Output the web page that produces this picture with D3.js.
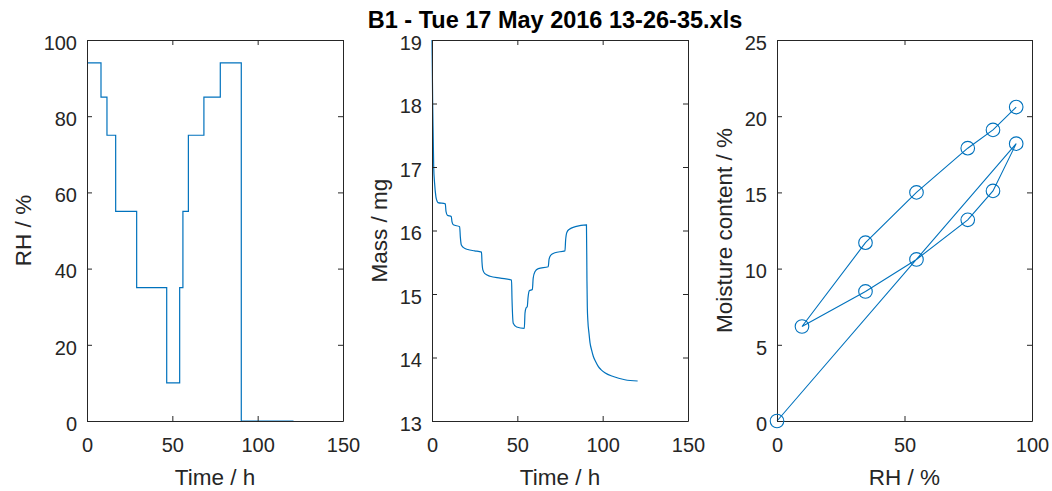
<!DOCTYPE html>
<html>
<head>
<meta charset="utf-8">
<script src="https://cdn.jsdelivr.net/npm/d3@7"></script>
<style>
  body { margin: 0; background: #fff; }
  text { font-family: "Liberation Sans", Arial, Helvetica, sans-serif; fill: #262626; }
</style>
</head>
<body>
<script>
// RH program (step values, held until the next time)
var rhTime  = [0, 8.2, 11.7, 16.8, 29.1, 46.7, 54.3, 56.2, 59.4, 68.5, 78.1, 90.4, 121];
var rhLevel = [94, 85, 75, 55, 35, 10, 35, 55, 75, 85, 94, 0, 0];

// sample mass
var massTime = [0, 0.2, 0.4, 0.7, 1.0, 1.5, 2.3, 3.0, 3.5, 7.8,
  8.2, 9.0, 11.3, 11.7, 12.5, 16.2, 16.6, 17.2, 18.5, 21,
  25, 29.0, 29.3, 29.8, 31, 34, 40, 46.6, 46.9, 47.6,
  49.6, 54.1, 54.5, 55.1, 55.8, 56.3, 57.0, 58.8, 59.3, 60.3,
  62.3, 68.1, 68.6, 69.5, 72.0, 77.9, 78.3, 79.0, 80.5, 84,
  90.5, 90.8, 91.0, 91.3, 92.0, 92.6, 93.5, 94.5, 96, 97.4,
  99, 101.3, 106.2, 113, 120.5];
var massValue = [19.0, 18.5, 18.0, 17.5, 17.0, 16.75, 16.53, 16.46, 16.44, 16.42,
  16.3, 16.24, 16.22, 16.14, 16.09, 16.06, 15.9, 15.77, 15.73, 15.70,
  15.68, 15.66, 15.5, 15.38, 15.32, 15.28, 15.25, 15.22, 14.9, 14.54,
  14.48, 14.46, 14.7, 14.78, 14.8, 14.95, 15.05, 15.07, 15.25, 15.35,
  15.4, 15.43, 15.55, 15.61, 15.65, 15.68, 15.85, 15.97, 16.02, 16.06,
  16.09, 15.2, 14.8, 14.59, 14.38, 14.23, 14.12, 14.02, 13.93, 13.86,
  13.81, 13.76, 13.70, 13.65, 13.63];

// sorption isotherm points, in measurement order
var mcRH    = [93.8, 84.7, 74.8, 54.7, 34.7, 9.8, 34.7, 54.7, 74.8, 84.7, 93.8, 0];
var mcValue = [20.6, 19.1, 17.9, 15.0, 11.7, 6.2, 8.5, 10.6, 13.2, 15.1, 18.2, 0];

var timeTicks = [0, 50, 100, 150];
var rhTicks = [0, 20, 40, 60, 80, 100];
var massTicks = [13, 14, 15, 16, 17, 18, 19];
var mcTicks = [0, 5, 10, 15, 20, 25];
var rhAxisTicks = [0, 50, 100];

var titleText = "B1 - Tue 17 May 2016 13-26-35.xls";

var W = 1052, H = 491;
var plotTop = 40, plotBottom = 421;
var lineColor = "#0072BD";
var axisColor = "#262626";
var tickFont = 20;
var labelFont = 22.5;

var svg = d3.select("body").append("svg")
    .attr("width", W)
    .attr("height", H);

function makePanel(left, right, xDomain, yDomain, xTicks, yTicks, xLabel, yLabel, yLabelX) {
  var g = svg.append("g");
  var x = d3.scaleLinear().domain(xDomain).range([left, right]);
  var y = d3.scaleLinear().domain(yDomain).range([plotBottom, plotTop]);
  var fmt = d3.format("d");

  var plot = g.append("g");

  // box with inward ticks on all four sides
  var axes = g.append("g");
  axes.append("g")
      .attr("transform", "translate(0," + plotBottom + ")")
      .call(d3.axisBottom(x).tickValues(xTicks).tickFormat(fmt).tickSizeInner(-5).tickSizeOuter(0).tickPadding(17));
  axes.append("g")
      .attr("transform", "translate(0," + plotTop + ")")
      .call(d3.axisTop(x).tickValues(xTicks).tickSizeInner(-5).tickSizeOuter(0).tickFormat(""));
  var yAxis = axes.append("g")
      .attr("transform", "translate(" + left + ",0)")
      .call(d3.axisLeft(y).tickValues(yTicks).tickFormat(fmt).tickSizeInner(-5).tickSizeOuter(0).tickPadding(10));
  axes.append("g")
      .attr("transform", "translate(" + right + ",0)")
      .call(d3.axisRight(y).tickValues(yTicks).tickSizeInner(-5).tickSizeOuter(0).tickFormat(""));

  axes.selectAll("path.domain").attr("stroke", axisColor).attr("stroke-width", 1);
  axes.selectAll(".tick line").attr("stroke", axisColor).attr("stroke-width", 1);
  axes.selectAll(".tick text")
      .style("font-size", tickFont + "px")
      .attr("fill", axisColor);
  // y tick labels sit a bit lower in MATLAB
  yAxis.selectAll(".tick text").attr("dy", "0.46em");

  g.append("text")
      .attr("x", (left + right) / 2)
      .attr("y", 485)
      .attr("text-anchor", "middle")
      .style("font-size", labelFont + "px")
      .text(xLabel);

  g.append("text")
      .attr("transform", "translate(" + yLabelX + "," + (plotTop + plotBottom) / 2 + ") rotate(-90)")
      .attr("text-anchor", "middle")
      .style("font-size", labelFont + "px")
      .text(yLabel);

  return { g: g, plot: plot, x: x, y: y };
}

// Panel 1: RH vs time
var p1 = makePanel(87, 343, [0, 150], [0, 100], timeTicks, rhTicks, "Time / h", "RH / %", 31);
var rhData = rhTime.map(function(t, i) { return { t: t, v: rhLevel[i] }; });
p1.plot.append("path")
    .datum(rhData)
    .attr("fill", "none")
    .attr("stroke", lineColor)
    .attr("stroke-width", 1.2)
    .attr("d", d3.line().curve(d3.curveStepAfter).x(function(d) { return p1.x(d.t); }).y(function(d) { return p1.y(d.v); }));

// Panel 2: mass vs time
var p2 = makePanel(432, 688, [0, 150], [13, 19], timeTicks, massTicks, "Time / h", "Mass / mg", 387);
var massData = massTime.map(function(t, i) { return { t: t, v: massValue[i] }; });
p2.plot.append("path")
    .datum(massData)
    .attr("fill", "none")
    .attr("stroke", lineColor)
    .attr("stroke-width", 1.2)
    .attr("d", d3.line().curve(d3.curveMonotoneX).x(function(d) { return p2.x(d.t); }).y(function(d) { return p2.y(d.v); }));

// Panel 3: moisture content vs RH
var p3 = makePanel(777, 1032, [0, 100], [0, 25], rhAxisTicks, mcTicks, "RH / %", "Moisture content / %", 732);
var mcData = mcRH.map(function(r, i) { return { r: r, v: mcValue[i] }; });
p3.plot.append("path")
    .datum(mcData)
    .attr("fill", "none")
    .attr("stroke", lineColor)
    .attr("stroke-width", 1.1)
    .attr("d", d3.line().x(function(d) { return p3.x(d.r); }).y(function(d) { return p3.y(d.v); }));
p3.g.selectAll("circle.mk")
    .data(mcData)
    .enter().append("circle")
    .attr("class", "mk")
    .attr("cx", function(d) { return p3.x(d.r); })
    .attr("cy", function(d) { return p3.y(d.v); })
    .attr("r", 6.8)
    .attr("fill", "none")
    .attr("stroke", lineColor)
    .attr("stroke-width", 1.1);

// title
svg.append("text")
    .attr("x", 555)
    .attr("y", 28)
    .attr("text-anchor", "middle")
    .style("font-size", "23.5px")
    .style("font-weight", "bold")
    .style("fill", "#000")
    .text(titleText);
</script>
</body>
</html>
